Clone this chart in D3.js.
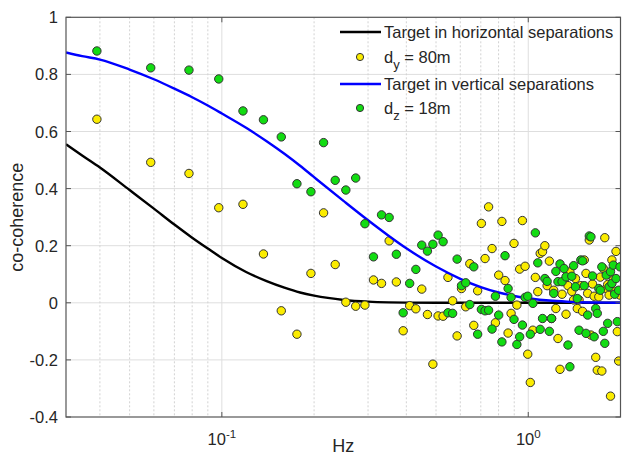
<!DOCTYPE html>
<html>
<head>
<meta charset="utf-8">
<script src="https://cdn.jsdelivr.net/npm/d3@7/dist/d3.min.js"></script>
<style>
  html, body { margin: 0; padding: 0; background: #ffffff; }
  svg { display: block; }
  text { font-family: "Liberation Sans", Arial, Helvetica, sans-serif; fill: #262626; }
</style>
</head>
<body>
<svg id="chart" width="622" height="457"></svg>
<script>
// Frequency bins (Hz) shared by both measured series
const freqs = [
  0.0391, 0.0586, 0.0781, 0.0977, 0.1172, 0.1367, 0.1563, 0.1758, 0.1953, 0.2148,
  0.2344, 0.2539, 0.2734, 0.2930, 0.3125, 0.3320, 0.3516, 0.3711, 0.3906, 0.4102,
  0.4297, 0.4492, 0.4688, 0.4883, 0.5078, 0.5273, 0.5469, 0.5664, 0.5859, 0.6055,
  0.6250, 0.6445, 0.6641, 0.6836, 0.7031, 0.7227, 0.7422, 0.7617, 0.7813, 0.8008,
  0.8203, 0.8398, 0.8594, 0.8789, 0.8984, 0.9180, 0.9375, 0.9570, 0.9766, 0.9961,
  1.0156, 1.0352, 1.0547, 1.0742, 1.0938, 1.1133, 1.1328, 1.1523, 1.1719, 1.1914,
  1.2109, 1.2305, 1.2500, 1.2695, 1.2891, 1.3086, 1.3281, 1.3477, 1.3672, 1.3867,
  1.4063, 1.4258, 1.4453, 1.4648, 1.4844, 1.5039, 1.5234, 1.5430, 1.5625, 1.5820,
  1.6016, 1.6211, 1.6406, 1.6602, 1.6797, 1.6992, 1.7188, 1.7383, 1.7578, 1.7773,
  1.7969, 1.8164, 1.8359, 1.8555, 1.8750, 1.8945, 1.9141, 1.9336, 1.9531, 1.9727,
  1.9922
];

// Measured co-coherence, horizontal separation d_y = 80 m
const cohY = [
  0.643, 0.492, 0.453, 0.333, 0.345, 0.171, -0.028, -0.110, 0.103, 0.315,
  0.134, 0.002, -0.012, -0.008, 0.080, 0.068, 0.217, 0.073, -0.098, -0.010,
  -0.021, 0.048, -0.041, -0.215, -0.046, -0.047, 0.089, 0.007, -0.116, 0.050,
  -0.014, 0.137, -0.079, 0.042, 0.278, 0.155, 0.336, 0.190, -0.070, 0.097,
  0.285, 0.078, -0.106, -0.037, 0.208, -0.008, 0.118, 0.288, 0.128, -0.180,
  -0.279, -0.096, 0.089, 0.039, 0.173, 0.179, 0.200, 0.060, 0.146, -0.055,
  0.044, -0.020, -0.125, -0.233, 0.030, 0.075, -0.040, 0.060, 0.108, 0.040,
  0.010, 0.085, -0.020, 0.010, 0.060, -0.030, 0.150, 0.103, 0.033, 0.220,
  -0.113, 0.066, 0.023, -0.191, -0.236, 0.021, 0.090, -0.239, 0.120, 0.228,
  0.050, 0.064, 0.027, -0.327, 0.150, 0.080, 0.040, 0.180, -0.101, -0.204,
  0.027
];

// Measured co-coherence, vertical separation d_z = 18 m
const cohZ = [
  0.882, 0.823, 0.815, 0.784, 0.672, 0.641, 0.581, 0.417, 0.389, 0.561,
  0.429, 0.395, 0.437, 0.277, 0.161, 0.308, 0.299, 0.170, -0.035, 0.068,
  0.117, 0.202, 0.181, 0.205, 0.237, 0.214, -0.035, -0.037, 0.153, 0.060,
  0.070, -0.006, 0.126, -0.110, -0.023, -0.028, -0.026, -0.092, 0.023, -0.043,
  -0.137, 0.165, 0.050, 0.019, -0.058, -0.146, -0.119, -0.078, 0.019, 0.023,
  -0.110, -0.002, 0.245, 0.140, -0.093, -0.055, 0.085, 0.075, -0.100, -0.055,
  0.033, 0.110, 0.074, 0.136, 0.074, 0.120, 0.091, -0.148, -0.224, 0.093,
  0.130, 0.056, 0.015, -0.096, 0.150, 0.147, 0.060, -0.107, -0.043, 0.234,
  0.231, 0.094, -0.119, -0.020, -0.037, 0.050, 0.044, 0.126, -0.100, -0.142,
  0.097, -0.072, 0.056, 0.109, 0.068, 0.132, 0.030, 0.085, -0.066, 0.044,
  0.126
];

// Target (model) co-coherence curves
const targetFreqs = [
  0.031, 0.035, 0.04, 0.05, 0.06, 0.07, 0.08, 0.09, 0.1, 0.12,
  0.14, 0.16, 0.18, 0.2, 0.25, 0.3, 0.35, 0.4, 0.5, 0.6,
  0.7, 0.8, 0.9, 1.0, 1.2, 1.4, 1.6, 1.8, 2.0
];
const targetHorizontal = [
  0.555, 0.516, 0.474, 0.395, 0.330, 0.274, 0.228, 0.190, 0.157, 0.108,
  0.076, 0.053, 0.036, 0.025, 0.010, 0.004, 0.0015, 0.0006, 0.0001, 0,
  0, 0, 0, 0, 0, 0, 0, 0, 0
];
const targetVertical = [
  0.877, 0.864, 0.852, 0.817, 0.783, 0.750, 0.720, 0.691, 0.663, 0.613,
  0.566, 0.522, 0.480, 0.440, 0.356, 0.289, 0.235, 0.191, 0.127, 0.084,
  0.055, 0.036, 0.024, 0.016, 0.007, 0.003, 0.0013, 0.0006, 0.0003
];

// Axis ticks
const yTicks = [-0.4, -0.2, 0, 0.2, 0.4, 0.6, 0.8, 1];
const yTickLabels = ["-0.4", "-0.2", "0", "0.2", "0.4", "0.6", "0.8", "1"];
const xMajorTicks = [0.1, 1];
const xMajorExponents = ["-1", "0"];
const xMinorTicks = [0.04, 0.05, 0.06, 0.07, 0.08, 0.09, 0.2, 0.3, 0.4, 0.5, 0.6, 0.7, 0.8, 0.9];

// Legend entries
const legendItems = [
  { kind: "line", color: "#000000", label: "Target in horizontal separations" },
  { kind: "dot", color: "#fbec00", base: "d", sub: "y", rest: " = 80m" },
  { kind: "line", color: "#0000ff", label: "Target in vertical separations" },
  { kind: "dot", color: "#12dc12", base: "d", sub: "z", rest: " = 18m" }
];

const colorY = "#fbec00";
const colorZ = "#12dc12";

const svg = d3.select("#chart");
const plot = { left: 66, right: 620.5, top: 17.3, bottom: 417 };

const x = d3.scaleLog().domain([0.031, 2]).range([plot.left, plot.right]);
const y = d3.scaleLinear().domain([-0.4, 1]).range([plot.bottom, plot.top]);

// Grid
const grid = svg.append("g");
grid.selectAll("line.hgrid").data(yTicks.slice(1, -1)).join("line")
  .attr("x1", plot.left).attr("x2", plot.right)
  .attr("y1", d => y(d)).attr("y2", d => y(d))
  .attr("stroke", "#dedede").attr("stroke-width", 1);
grid.selectAll("line.vminor").data(xMinorTicks).join("line")
  .attr("x1", d => x(d)).attr("x2", d => x(d))
  .attr("y1", plot.top).attr("y2", plot.bottom)
  .attr("stroke", "#d2d2d2").attr("stroke-width", 1)
  .attr("stroke-dasharray", "2,2");
grid.selectAll("line.vmajor").data(xMajorTicks).join("line")
  .attr("x1", d => x(d)).attr("x2", d => x(d))
  .attr("y1", plot.top).attr("y2", plot.bottom)
  .attr("stroke", "#dedede").attr("stroke-width", 1);

svg.append("clipPath").attr("id", "plotclip")
  .append("rect").attr("x", plot.left).attr("y", plot.top)
  .attr("width", plot.right - plot.left).attr("height", plot.bottom - plot.top);

const lineGen = vals => d3.line()
  .x(d => x(d))
  .y((d, i) => y(vals[i]))
  .curve(d3.curveMonotoneX)(targetFreqs);

const layer = svg.append("g").attr("clip-path", "url(#plotclip)");

// Horizontal target
layer.append("path").attr("d", lineGen(targetHorizontal))
  .attr("fill", "none").attr("stroke", "#000000").attr("stroke-width", 2.4);

// d_y points
layer.append("g").selectAll("circle").data(cohY).join("circle")
  .attr("cx", (d, i) => x(freqs[i])).attr("cy", d => y(d)).attr("r", 4.2)
  .attr("fill", colorY).attr("stroke", "#333333").attr("stroke-width", 1);

// Vertical target
layer.append("path").attr("d", lineGen(targetVertical))
  .attr("fill", "none").attr("stroke", "#0000ff").attr("stroke-width", 2.4);

// d_z points
layer.append("g").selectAll("circle").data(cohZ).join("circle")
  .attr("cx", (d, i) => x(freqs[i])).attr("cy", d => y(d)).attr("r", 4.2)
  .attr("fill", colorZ).attr("stroke", "#333333").attr("stroke-width", 1);

// Axes box
svg.append("rect").attr("x", plot.left).attr("y", plot.top)
  .attr("width", plot.right - plot.left).attr("height", plot.bottom - plot.top)
  .attr("fill", "none").attr("stroke", "#555555").attr("stroke-width", 1.2);

// Ticks (inward)
const tickLen = 5;
const ticks = svg.append("g").attr("stroke", "#555555").attr("stroke-width", 1);
yTicks.forEach(v => {
  ticks.append("line").attr("x1", plot.left).attr("x2", plot.left + tickLen)
    .attr("y1", y(v)).attr("y2", y(v));
  ticks.append("line").attr("x1", plot.right).attr("x2", plot.right - tickLen)
    .attr("y1", y(v)).attr("y2", y(v));
});
xMajorTicks.forEach(v => {
  ticks.append("line").attr("x1", x(v)).attr("x2", x(v))
    .attr("y1", plot.bottom).attr("y2", plot.bottom - tickLen);
  ticks.append("line").attr("x1", x(v)).attr("x2", x(v))
    .attr("y1", plot.top).attr("y2", plot.top + tickLen);
});

// Tick labels
svg.append("g").selectAll("text").data(yTicks).join("text")
  .attr("x", 58).attr("y", d => y(d) + 6)
  .attr("text-anchor", "end").attr("font-size", 16.5)
  .text((d, i) => yTickLabels[i]);

const xl = svg.append("g").selectAll("text").data(xMajorTicks).join("text")
  .attr("x", d => x(d)).attr("y", 445)
  .attr("text-anchor", "middle").attr("font-size", 16.5);
xl.append("tspan").text("10");
xl.append("tspan").attr("font-size", 11.5).attr("dy", -7)
  .text((d, i) => xMajorExponents[i]);

// Axis labels
svg.append("text").attr("x", (plot.left + plot.right) / 2).attr("y", 452)
  .attr("text-anchor", "middle").attr("font-size", 18).text("Hz");
svg.append("text")
  .attr("transform", `translate(23,${(plot.top + plot.bottom) / 2}) rotate(-90)`)
  .attr("text-anchor", "middle").attr("font-size", 18).text("co-coherence");

// Legend (transparent, no frame)
const legendRows = [32, 57, 84, 108];
const legend = svg.append("g");
legendItems.forEach((item, i) => {
  const cy = legendRows[i];
  if (item.kind === "line") {
    legend.append("line").attr("x1", 340).attr("x2", 381)
      .attr("y1", cy).attr("y2", cy)
      .attr("stroke", item.color).attr("stroke-width", 2.4);
    legend.append("text").attr("x", 384).attr("y", cy + 6)
      .attr("font-size", 16.5).text(item.label);
  } else {
    legend.append("circle").attr("cx", 360).attr("cy", cy).attr("r", 3.6)
      .attr("fill", item.color).attr("stroke", "#333333").attr("stroke-width", 1);
    const t = legend.append("text").attr("x", 384).attr("y", cy + 6)
      .attr("font-size", 16.5);
    t.append("tspan").text(item.base);
    t.append("tspan").attr("font-size", 13).attr("dy", 6).text(item.sub);
    t.append("tspan").attr("dy", -6).text(item.rest);
  }
});
</script>
</body>
</html>
